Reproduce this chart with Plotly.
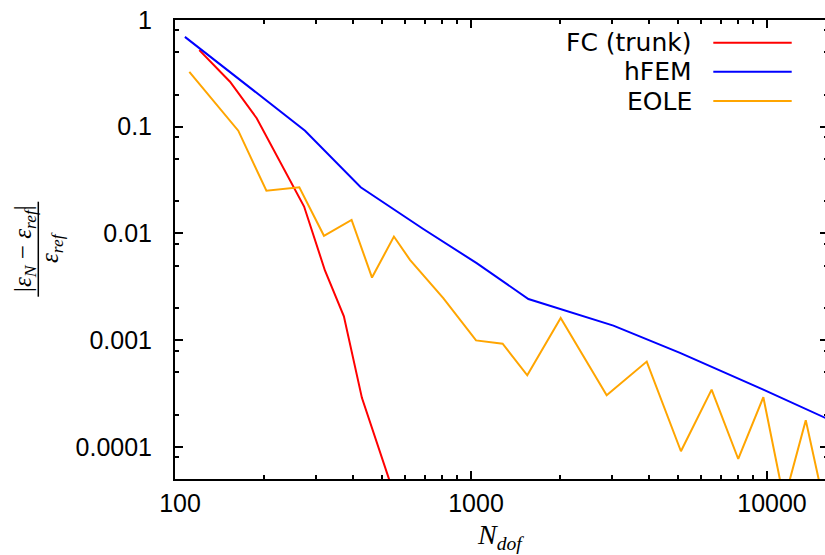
import plotly.graph_objects as go

# ---------------- data ----------------
series_names = ["FC (trunk)", "hFEM", "EOLE"]
series_colors = ["#ff0000", "#0000ff", "#ffa500"]

fc_n = [120.8, 153.4, 188.8, 273, 321, 372, 428, 486, 590]
fc_err = [0.522, 0.264, 0.12, 0.01786, 0.0045, 0.00167, 2.88e-4, 1.02e-4, 2.0e-5]

hfem_n = [108, 275, 424, 690, 1045, 1563, 3027, 5082, 9717, 16000]
hfem_err = [0.695, 0.0918, 0.0271, 0.011, 0.00527, 0.00243, 0.00137, 7.6e-4, 3.44e-4, 1.83e-4]

eole_n = [111.8, 163.6, 203.6, 263, 318.6, 395, 463, 549, 622, 806, 1040, 1279,
          1549, 2009, 2873, 3924, 5120, 6500, 7996, 9720, 11430, 13520, 16000]
eole_err = [0.327, 0.0918, 0.0251, 0.0271, 0.0095, 0.0134, 0.00386, 0.00935, 0.00566,
            0.00248, 0.000995, 0.000927, 0.000469, 0.001614, 0.000305, 6.3e-4, 9.1e-5,
            3.44e-4, 7.7e-5, 2.92e-4, 3.14e-5, 1.78e-4, 2.1e-5]

x_tickvals = [100, 1000, 10000]
x_ticktext = ["100", "1000", "10000"]
x_minor = [m * d for d in (100, 1000, 10000) for m in range(2, 10)]
y_tickvals = [1e-4, 1e-3, 1e-2, 1e-1, 1]
y_ticktext = ["0.0001", "0.001", "0.01", "0.1", "1"]
y_minor = [m * d for d in (1e-5, 1e-4, 1e-3, 1e-2, 1e-1) for m in (2, 5, 8)]

# ---------------- layout geometry ----------------
W, H = 828, 555          # plot runs just past the 825px window, like the reference
ML, MR, MT, MB = 175, 0, 20, 76
PW, PH = W - ML - MR, H - MT - MB
DECADE_X = 296.0


def px_x(p):
    return (p - ML) / PW


def px_y(p):
    return (H - MB - p) / PH


sans = "Liberation Sans"
legend_font = "DejaVu Sans"
serif = "Liberation Serif"
FS = 25

fig = go.Figure()
for name, col, xs, ys in zip(series_names, series_colors,
                             [fc_n, hfem_n, eole_n], [fc_err, hfem_err, eole_err]):
    fig.add_trace(go.Scatter(x=xs, y=ys, mode="lines", name=name,
                             line=dict(color=col, width=2), showlegend=False))

axis_common = dict(ticks="inside", ticklen=8, tickwidth=1.5, tickcolor="black",
                   showgrid=False, zeroline=False, showline=True,
                   linecolor="black", linewidth=2, mirror="ticks")
minor_common = dict(tickmode="array", ticks="inside", ticklen=4, tickwidth=1.5,
                    tickcolor="black", showgrid=False)

fig.update_layout(
    width=W, height=H,
    margin=dict(l=ML, r=MR, t=MT, b=MB, autoexpand=False),
    paper_bgcolor="white", plot_bgcolor="white",
    font=dict(family=sans, size=FS, color="black"),
    xaxis=dict(type="log", range=[2, 2 + PW / DECADE_X],
               tickvals=x_tickvals, ticktext=x_ticktext,
               tickfont=dict(family=sans, size=FS),
               ticklabelstandoff=1, ticklabelshift=5,
               minor=dict(tickvals=x_minor, **minor_common),
               **axis_common),
    yaxis=dict(type="log", range=[-4.301, 0],
               tickvals=y_tickvals, ticktext=y_ticktext,
               tickfont=dict(family=sans, size=FS),
               ticklabelstandoff=16,
               minor=dict(tickvals=y_minor, **minor_common),
               **axis_common),
)

annotations = []
shapes = []

# x-axis title
annotations.append(dict(text="<i>N</i><sub><i>dof</i></sub>", xref="paper", yref="paper",
                        x=px_x(500), y=px_y(536), xanchor="center", yanchor="middle",
                        showarrow=False, font=dict(family=serif, size=28)))

# y-axis title (fraction, rotated)
annotations.append(dict(text="|<i>ε</i><sub><i>N</i></sub> − <i>ε</i><sub><i>ref</i></sub>|",
                        xref="paper", yref="paper", x=px_x(24), y=px_y(249),
                        xanchor="center", yanchor="middle", textangle=-90,
                        showarrow=False, font=dict(family=serif, size=25)))
annotations.append(dict(text="<i>ε</i><sub><i>ref</i></sub>",
                        xref="paper", yref="paper", x=px_x(51), y=px_y(248),
                        xanchor="center", yanchor="middle", textangle=-90,
                        showarrow=False, font=dict(family=serif, size=25)))
shapes.append(dict(type="line", xref="paper", yref="paper",
                   x0=px_x(38.3), x1=px_x(38.3), y0=px_y(201.7), y1=px_y(296.7),
                   line=dict(color="black", width=1.5)))

# legend (text right-aligned, sample to the right, gnuplot style)
rows = [42.7, 71.7, 101]
for name, col, ry in zip(series_names, series_colors, rows):
    annotations.append(dict(text=name, xref="paper", yref="paper",
                            x=px_x(694), y=px_y(ry), xanchor="right", yanchor="middle",
                            showarrow=False, font=dict(family=legend_font, size=25)))
    shapes.append(dict(type="line", xref="paper", yref="paper",
                       x0=px_x(713.3), x1=px_x(791.7), y0=px_y(ry), y1=px_y(ry),
                       line=dict(color=col, width=2)))

fig.update_layout(annotations=annotations, shapes=shapes)

post = ("document.documentElement.style.margin='0';document.body.style.margin='0';"
        "document.documentElement.style.overflow='hidden';document.body.style.overflow='hidden';")
fig.write_html("out.html", post_script=post, config={"displayModeBar": False})
